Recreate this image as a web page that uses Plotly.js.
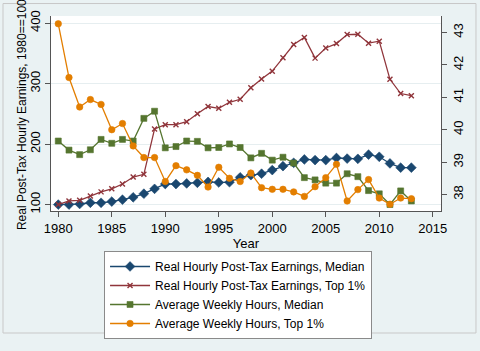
<!DOCTYPE html>
<html>
<head>
<meta charset="utf-8">
<script src="https://cdn.plot.ly/plotly-3.0.1.min.js"></script>
<style>
html,body{margin:0;padding:0;background:#ffffff;}
#chart{width:480px;height:351px;}
</style>
</head>
<body>
<div id="chart"></div>
<script>
var years = [1980,1981,1982,1983,1984,1985,1986,1987,1988,1989,1990,1991,1992,1993,1994,1995,1996,1997,1998,1999,2000,2001,2002,2003,2004,2005,2006,2007,2008,2009,2010,2011,2012,2013];
var earnMedian = [100,100,101,103,103,105,108,112,118,126,134,134,135,136,137.5,136.5,137,145,148.6,151,157,163.5,169,174.6,173.5,173.5,177,176,175.6,182.5,179,168,161,161];
var earnTop1 = [100,106,107,114,121,126,134,145.5,150,225,232,232,237,250,262,259,269,274,293,307.5,320.5,342.5,364.5,376,342,358.7,366,381,381.4,366.7,370,307,283.5,280];
var hoursMedian = [39.65,39.37,39.23,39.38,39.70,39.58,39.70,39.65,40.35,40.57,39.44,39.48,39.65,39.64,39.44,39.45,39.56,39.45,39.13,39.27,39.06,39.15,38.97,38.52,38.45,38.35,38.35,38.64,38.55,38.12,38.02,37.69,38.11,37.80];
var hoursTop1 = [43.27,41.61,40.70,40.93,40.78,40.00,40.19,39.50,39.14,39.14,38.40,38.89,38.76,38.59,38.23,38.84,38.50,38.40,38.66,38.21,38.16,38.16,38.08,37.94,38.24,38.52,38.93,37.80,38.15,38.46,37.89,37.70,37.89,37.87];
var seriesNames = ["Real Hourly Post-Tax Earnings, Median","Real Hourly Post-Tax Earnings, Top 1%","Average Weekly Hours, Median","Average Weekly Hours, Top 1%"];
var yTitle = 'Real Post-Tax Hourly Earnings, 1980==100';
var xTicks = [1980,1985,1990,1995,2000,2005,2010,2015];
var leftTicks = [100,200,300,400];
var rightTicks = [38,39,40,41,42,43];

var font = "Liberation Sans, Arial, sans-serif";
function tr(y, name, color, symbol, size, axis){
  return {x: years, y: y, name: name, type: 'scatter', mode: 'lines+markers', yaxis: axis,
    line: {color: color, width: 1.3},
    marker: {color: color, symbol: symbol, size: size, line: {color: color, width: 0.6}}};
}
var data = [
  tr(earnMedian, seriesNames[0], '#1A476F', 'diamond', 7.5, 'y'),
  tr(earnTop1, seriesNames[1], '#90353B', 'x-thin', 5, 'y'),
  tr(hoursMedian, seriesNames[2], '#55752F', 'square', 6, 'y2'),
  tr(hoursTop1, seriesNames[3], '#E37E00', 'circle', 6.5, 'y2')
];
data[1].marker.line.width = 1.4;

var layout = {
  width: 480, height: 351,
  margin: {l: 51, r: 39, t: 16, b: 132},
  paper_bgcolor: '#EAF2F3',
  plot_bgcolor: '#ffffff',
  font: {family: font, size: 12, color: '#000'},
  showlegend: true,
  legend: {x: 0.136, y: -0.205, xanchor: 'left', yanchor: 'top', bgcolor: '#ffffff',
    bordercolor: '#8a8a8a', borderwidth: 1, font: {family: font, size: 12, color: '#000'},
    tracegroupgap: 0, itemwidth: 40},
  xaxis: {range: [1979.32, 2015.77], tickvals: xTicks, ticks: 'outside', ticklen: 5, tickcolor: '#555',
    showline: true, linecolor: '#555', linewidth: 1, showgrid: false, zeroline: false,
    tickfont: {size: 13, family: font},
    title: {text: 'Year', font: {size: 13, family: font}, standoff: 2}},
  yaxis: {range: [89.4, 411.6], tickvals: leftTicks, ticks: 'outside', ticklen: 5, tickcolor: '#555',
    showline: true, linecolor: '#555', linewidth: 1, showgrid: true, gridcolor: '#E6EEF0', gridwidth: 1,
    zeroline: false, tickangle: -90, tickfont: {size: 13, family: font}},
  yaxis2: {range: [37.49, 43.51], tickvals: rightTicks, overlaying: 'y', side: 'right', ticks: 'outside',
    ticklen: 5, tickcolor: '#555', showline: true, linecolor: '#555', linewidth: 1, showgrid: false,
    zeroline: false, tickangle: -90, tickfont: {size: 13, family: font}},
  annotations: [
    {text: yTitle, xref: 'paper', yref: 'paper', x: -0.0744, y: 0.497, xanchor: 'center', yanchor: 'middle',
     textangle: -90, showarrow: false, font: {size: 12, family: font, color: '#000'}}
  ],
  shapes: [
    {type: 'rect', xref: 'paper', yref: 'paper', x0: -0.1231, x1: 1.0897, y0: -0.6256, y1: 1.064,
     line: {color: '#c8c8c8', width: 1}, fillcolor: 'rgba(0,0,0,0)', layer: 'below'}
  ]
};
Plotly.newPlot('chart', data, layout, {displayModeBar: false, staticPlot: true});
</script>
</body>
</html>
